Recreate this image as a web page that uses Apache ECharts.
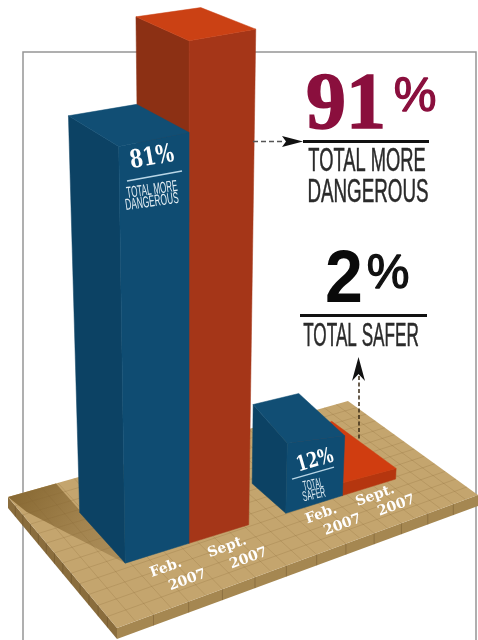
<!DOCTYPE html>
<html><head><meta charset="utf-8">
<style>html,body{margin:0;padding:0;background:#fff}#c{width:478px;height:640px}</style>
<script src="https://cdn.jsdelivr.net/npm/echarts@6/dist/echarts.min.js"></script>
</head><body><div id="c"></div>
<script>
// ---- data ----
const groups = ['Total more dangerous', 'Total safer'];
const feb2007 = [81, 12];
const sept2007 = [91, 2];
const monthLabels = [['Feb.', '2007'], ['Sept.', '2007']];

// ---- projection of the tiled board (u along the front edge, v into the depth) ----
const H = {a:474.6,b:-107.8,c:117,d:-15.3,e:-55.1,f:628,g:.2377,h:.1527};
function ground(u,v){const w=H.g*u+H.h*v+1;return [(H.a*u+H.b*v+H.c)/w,(H.d*u+H.e*v+H.f)/w];}
const BAR_U=[.157,.165], DEPTH=[[.41,.41],[.27,.40]];
const PCT_PX=5, GRID_W=406, CANVAS_W=478;
function frontV(u){return .345-.06*u;}
function lift(h){return h*(6.537-.0662*h+.000605*h*h);}
function raise(u,v,h,uF,vF,w,depth,isBack){
  const g=ground(u,v), low=Math.max(0,70-h)/58;
  const tu=-.015-.125*low, tv=-.048+.178*low;
  const k=1+tu*(u-uF)/w+tv*(v-vF)/depth;
  const p=[188+(g[0]-188)*(1+.00128*h), g[1]-lift(h)*k];
  if(isBack){p[0]-=11*low;p[1]-=5*low;}
  return p;
}
const COL=[
  {top:'#114e74',left:'#0c4264',right:'#0f4c72'},
  {top:'#cb4114',left:'#8c3014',right:'#a53618'}
];
const COL_LOW={top:'#d03d10',left:'#8c3014',right:'#b5360f'};

function barSeries(name,values,m){
  return {type:'custom',name,coordinateSystem:'cartesian2d',clip:false,silent:true,
    encode:{x:0,y:1},
    data:values.map((v,i)=>[i,v]),
    renderItem(params,api){
      const i=api.value(0), val=api.value(1);
      const base=api.coord([i,0]), tip=api.coord([i,val]);
      const h=(base[1]-tip[1])/PCT_PX, uc=base[0]/CANVAS_W, w=BAR_U[i];
      const u0=uc+(m-1)*w, u1=u0+w, depth=DEPTH[i][m];
      const vF0=frontV(u0), vF1=frontV(u1), vB0=vF0+depth, vB1=vF1+depth;
      const gF=ground(u0,vF0),gR=ground(u1,vF1),gL=ground(u0,vB0);
      const tF=raise(u0,vF0,h,u0,vF0,w,depth),tR=raise(u1,vF1,h,u0,vF0,w,depth),
            tL=raise(u0,vB0,h,u0,vF0,w,depth),tB=raise(u1,vB1,h,u0,vF0,w,depth,true);
      const c=val<5?COL_LOW:COL[m];
      const poly=(pts,fill)=>({type:'polygon',shape:{points:pts},style:{fill,stroke:fill,lineWidth:.5}});
      const ch=[poly([gL,gF,tF,tL],c.left),poly([gF,gR,tR,tF],c.right),poly([tL,tF,tR,tB],c.top)];
      monthLabels[m].forEach((t,k)=>{
        const p=ground(u0+w*.49+(k===0?-.0094:.0094),k===0?.229:.118);
        ch.push({type:'text',x:p[0],y:p[1],rotation:20*Math.PI/180,
          style:{text:t,fill:'#fff',font:'bold 14px "DejaVu Serif"',align:'center',verticalAlign:'middle',
            shadowColor:'rgba(50,30,0,.9)',shadowBlur:1,shadowOffsetX:1,shadowOffsetY:1}});
      });
      return {type:'group',children:ch};
    }};
}

const groundSeries={type:'custom',name:'board',coordinateSystem:'cartesian2d',clip:false,silent:true,
  data:[[0,0]],
  renderItem(){
    const ch=[];
    const T=11, F=ground(0,0),R=ground(1,0),B=ground(1,1),L=ground(0,1);
    const dn=p=>[p[0],p[1]+T];
    const poly=(pts,fill)=>({type:'polygon',shape:{points:pts},style:{fill}});
    ch.push(poly([L,F,dn(F),dn(L)],'#8a6d3d'));
    ch.push(poly([F,R,dn(R),dn(F)],'#a58751'));
    ch.push(poly([F,R,B,L],'#c4a56e'));
    const sh=[ground(0,1),ground(.12,1),ground(.119,.74),ground(.115,.338),ground(.012,.86)];
    ch.push({type:'polygon',shape:{points:sh},style:{fill:new echarts.graphic.LinearGradient(0,0,1,1,[
      {offset:0,color:'#84652f'},{offset:.6,color:'#a3844f'},{offset:1,color:'#ad8f5b'}])}});
    const line=(a,b,c,w)=>({type:'line',shape:{x1:a[0],y1:a[1],x2:b[0],y2:b[1]},style:{stroke:c,lineWidth:w}});
    const NU=24,NV=13;
    for(let i=1;i<NU;i++){
      ch.push(line(ground(i/NU,0),ground(i/NU,1),'rgba(130,98,50,.28)',.8));
      if(i%2===0){const p=ground(i/NU,0);ch.push(line(p,dn(p),'rgba(90,65,30,.32)',1));}
    }
    for(let j=1;j<NV;j++){
      ch.push(line(ground(0,j/NV),ground(1,j/NV),'rgba(130,98,50,.28)',.8));
      const p=ground(0,j/NV);ch.push(line(p,dn(p),'rgba(70,50,20,.3)',.8));
    }
    return {type:'group',children:ch};
  }};

function txt(text,x,y,font,fill,opt,sw){
  const style={text,font,fill,align:'center',verticalAlign:'middle'};
  if(sw){style.stroke=fill;style.lineWidth=sw;}
  return Object.assign({type:'text',x,y,z:100,style},opt||{});
}
const deg=d=>d*Math.PI/180;
const SANS='"Liberation Sans"', SERIF='"Liberation Serif"', SLAB='"DejaVu Serif"';
const graphics=[
  {type:'polyline',z:0,shape:{points:[[23,640],[23,52],[476,52],[476,640]]},style:{stroke:'#959595',fill:'none',lineWidth:1.5}},
  // callout: 91%
  txt('91',346,107,'bold 80px '+SERIF,'#8a0f3d',null,1.5),
  txt('%',415,98,'48px '+SANS,'#8a0f3d',null,1.3),
  {type:'line',z:100,shape:{x1:303,y1:141.5,x2:429,y2:141.5},style:{stroke:'#111',lineWidth:3}},
  {type:'line',z:100,shape:{x1:253,y1:141.5,x2:284,y2:141.5},style:{stroke:'#555',lineWidth:1.5,lineDash:[5,3]}},
  {type:'polygon',z:100,shape:{points:[[282,136],[303,141.5],[282,147],[286,141.5]]},style:{fill:'#111'}},
  txt('TOTAL MORE',367,162,'33px '+SANS,'#2a2a2a',{scaleX:.555},.5),
  txt('DANGEROUS',368,193,'33px '+SANS,'#2a2a2a',{scaleX:.57},.5),
  // callout: 2%
  txt('2',344,282,'bold 74px '+SANS,'#0a0a0a',{scaleX:.92}),
  txt('%',388,275,'48px '+SANS,'#111',null,1.3),
  {type:'line',z:100,shape:{x1:300,y1:315.5,x2:427,y2:315.5},style:{stroke:'#111',lineWidth:3}},
  txt('TOTAL SAFER',361,337,'33px '+SANS,'#2a2a2a',{scaleX:.52},.5),
  {type:'line',z:100,shape:{x1:359,y1:376,x2:359,y2:440},style:{stroke:'#3a2a15',lineWidth:1.5,lineDash:[4,2.5]}},
  {type:'polygon',z:100,shape:{points:[[358.5,357],[365,381],[358.5,374],[352,381]]},style:{fill:'#111'}},
  // on-bar labels
  txt('81%',152,158,'bold 25px '+SLAB,'#fff',{rotation:deg(10),scaleX:.76}),
  {type:'line',z:100,shape:{x1:127,y1:181,x2:182,y2:171},style:{stroke:'#b9d6e6',lineWidth:1.3}},
  txt('TOTAL MORE',152,190,'16px '+SANS,'#e4eef3',{rotation:deg(8),scaleX:.5}),
  txt('DANGEROUS',152,202,'16px '+SANS,'#e4eef3',{rotation:deg(8),scaleX:.52}),
  txt('12%',315,461,'bold 21px '+SLAB,'#fff',{rotation:deg(16),scaleX:.76}),
  {type:'line',z:100,shape:{x1:292,y1:479,x2:334,y2:467},style:{stroke:'#b9d6e6',lineWidth:1.3}},
  txt('TOTAL',313,485,'14px '+SANS,'#dce9f0',{rotation:deg(12),scaleX:.46}),
  txt('SAFER',314,495,'14px '+SANS,'#dce9f0',{rotation:deg(12),scaleX:.5})
];

const chart=echarts.init(document.getElementById('c'),null,{renderer:'canvas'});
chart.setOption({
  animation:false,backgroundColor:'#fff',
  grid:{left:(.272*CANVAS_W-GRID_W/4),width:GRID_W,top:30,height:100*PCT_PX},
  xAxis:{type:'category',data:groups,show:false},
  yAxis:{type:'value',min:0,max:100,show:false},
  graphic:graphics,
  series:[groundSeries,barSeries('Sept. 2007',sept2007,1),barSeries('Feb. 2007',feb2007,0)]
});
</script></body></html>
